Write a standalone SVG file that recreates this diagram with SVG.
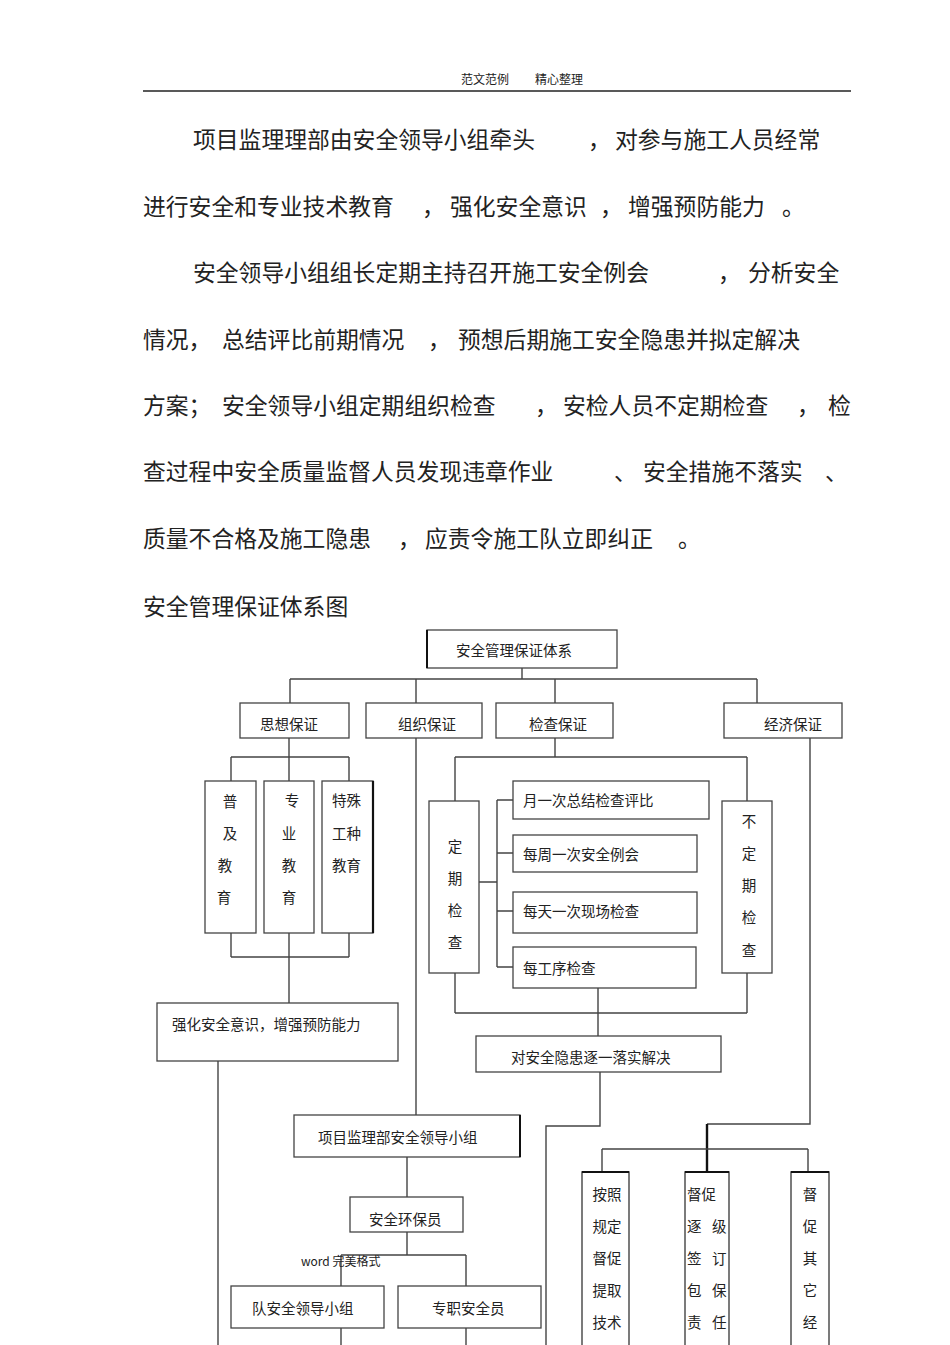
<svg xmlns="http://www.w3.org/2000/svg" width="950" height="1345" viewBox="0 0 950 1345">
<style>
  text { font-family: "Noto Sans CJK SC", "Noto Sans", sans-serif; fill: #222; dominant-baseline: central; }
  .p { font-size: 22.8px; }
  .h { font-size: 12px; }
  .b { font-size: 14.5px; }
  .w { font-size: 12px; }
  .box { fill: #fff; stroke: #444; stroke-width: 1.3; }
  .ln { fill: none; stroke: #444; stroke-width: 1.4; }
  .tk { fill: none; stroke: #111; stroke-width: 2.4; }
  .vc { text-anchor: middle; }
</style>
<rect width="950" height="1345" fill="#fff"/>

<g id="header">
  <text class="h" x="461" y="78">范文范例</text>
  <text class="h" x="535" y="78">精心整理</text>
  <line x1="143" y1="91" x2="851" y2="91" stroke="#222" stroke-width="1.5"/>
</g>

<g id="paragraph">
  <text class="p" x="193" y="138">项目监理理部由安全领导小组牵头</text>
  <text class="p" x="588" y="138">，</text>
  <text class="p" x="615" y="138">对参与施工人员经常</text>

  <text class="p" x="143" y="205">进行安全和专业技术教育</text>
  <text class="p" x="422" y="205">，</text>
  <text class="p" x="450" y="205">强化安全意识</text>
  <text class="p" x="600" y="205">，</text>
  <text class="p" x="628" y="205">增强预防能力</text>
  <text class="p" x="782" y="205">。</text>

  <text class="p" x="193" y="271">安全领导小组组长定期主持召开施工安全例会</text>
  <text class="p" x="718" y="271">，</text>
  <text class="p" x="748" y="271">分析安全</text>

  <text class="p" x="143" y="338">情况，</text>
  <text class="p" x="222" y="338">总结评比前期情况</text>
  <text class="p" x="428" y="338">，</text>
  <text class="p" x="458" y="338">预想后期施工安全隐患并拟定解决</text>

  <text class="p" x="143" y="404">方案；</text>
  <text class="p" x="222" y="404">安全领导小组定期组织检查</text>
  <text class="p" x="535" y="404">，</text>
  <text class="p" x="563" y="404">安检人员不定期检查</text>
  <text class="p" x="797" y="404">，</text>
  <text class="p" x="828" y="404">检</text>

  <text class="p" x="143" y="470">查过程中安全质量监督人员发现违章作业</text>
  <text class="p" x="614" y="470">、</text>
  <text class="p" x="643" y="470">安全措施不落实</text>
  <text class="p" x="825" y="470">、</text>

  <text class="p" x="143" y="537">质量不合格及施工隐患</text>
  <text class="p" x="398" y="537">，</text>
  <text class="p" x="425" y="537">应责令施工队立即纠正</text>
  <text class="p" x="678" y="537">。</text>

  <text class="p" x="143" y="605">安全管理保证体系图</text>
</g>

<g id="connectors">
  <path class="ln" d="M522 668 V679 M290 679 H757 M290 679 V703 M416 679 V703 M555 679 V703 M757 679 V703"/>
  <path class="ln" d="M289 738 V757 M231 757 H349 M231 757 V781 M289 757 V781 M349 757 V781"/>
  <path class="ln" d="M231 933 V957 M289 933 V1003 M349 933 V957 M231 957 H349"/>
  <path class="ln" d="M218 1061 V1345"/>
  <path class="ln" d="M416 738 V1115"/>
  <path class="ln" d="M407 1157 V1197 M407 1232 V1255 M341 1255 H466 M341 1255 V1286 M466 1255 V1286"/>
  <path class="ln" d="M341 1328 V1345 M466 1328 V1345"/>
  <path class="ln" d="M555 738 V757 M455 757 H747 M455 757 V801 M747 757 V801"/>
  <path class="ln" d="M479 882 H497 M497 800 V967 M497 800 H513 M497 853 H513 M497 911 H513 M497 967 H513"/>
  <path class="ln" d="M455 973 V1013 M747 973 V1013 M455 1013 H747 M598 988 V1036"/>
  <path class="ln" d="M600 1072 V1126 H546 V1345" stroke="#222" stroke-width="1.8"/>
  <path class="ln" d="M810 738 V1124 H707"/>
  <path class="tk" d="M707 1124 V1172"/>
  <path class="ln" d="M602 1149 H808 M602 1149 V1172 M808 1149 V1172"/>
</g>

<g id="n-root">
  <rect class="box" x="427" y="630" width="190" height="38"/>
  <line x1="427" y1="630" x2="427" y2="668" stroke="#111" stroke-width="2"/>
  <text class="b" x="456" y="649">安全管理保证体系</text>
</g>

<g id="n-sixiang">
  <rect class="box" x="240" y="703" width="109" height="35"/>
  <text class="b" x="260" y="723">思想保证</text>
</g>
<g id="n-zuzhi">
  <rect class="box" x="366" y="703" width="116" height="35"/>
  <text class="b" x="398" y="723">组织保证</text>
</g>
<g id="n-jiancha">
  <rect class="box" x="496" y="703" width="117" height="35"/>
  <text class="b" x="529" y="723">检查保证</text>
</g>
<g id="n-jingji">
  <rect class="box" x="724" y="703" width="118" height="35"/>
  <text class="b" x="764" y="723">经济保证</text>
</g>

<g id="n-puji">
  <rect class="box" x="205" y="781" width="51" height="152"/>
  <text class="b vc" x="230" y="800">普</text>
  <text class="b vc" x="230" y="832">及</text>
  <text class="b vc" x="225" y="864">教</text>
  <text class="b vc" x="224" y="896">育</text>
</g>
<g id="n-zhuanye">
  <rect class="box" x="264" y="781" width="50" height="152"/>
  <text class="b vc" x="292" y="799">专</text>
  <text class="b vc" x="289" y="832">业</text>
  <text class="b vc" x="289" y="864">教</text>
  <text class="b vc" x="289" y="896">育</text>
</g>
<g id="n-teshu">
  <rect class="box" x="322" y="781" width="51" height="152"/>
  <line x1="373" y1="781" x2="373" y2="933" stroke="#111" stroke-width="2.2"/>
  <text class="b" x="332" y="799">特殊</text>
  <text class="b" x="332" y="832">工种</text>
  <text class="b" x="332" y="864">教育</text>
</g>

<g id="n-qianghua">
  <rect class="box" x="157" y="1003" width="241" height="58"/>
  <text class="b" x="172" y="1023">强化安全意识，增强预防能力</text>
</g>

<g id="n-dingqi">
  <rect class="box" x="429" y="801" width="50" height="172"/>
  <text class="b vc" x="455" y="845">定</text>
  <text class="b vc" x="455" y="877">期</text>
  <text class="b vc" x="455" y="909">检</text>
  <text class="b vc" x="455" y="941">查</text>
</g>
<g id="n-yue">
  <rect class="box" x="513" y="781" width="196" height="38"/>
  <text class="b" x="523" y="799">月一次总结检查评比</text>
</g>
<g id="n-zhou">
  <rect class="box" x="513" y="835" width="184" height="37"/>
  <text class="b" x="523" y="853">每周一次安全例会</text>
</g>
<g id="n-tian">
  <rect class="box" x="513" y="892" width="184" height="41"/>
  <text class="b" x="523" y="910">每天一次现场检查</text>
</g>
<g id="n-gongxu">
  <rect class="box" x="513" y="947" width="183" height="41"/>
  <text class="b" x="523" y="967">每工序检查</text>
</g>
<g id="n-budingqi">
  <rect class="box" x="722" y="801" width="50" height="172"/>
  <text class="b vc" x="749" y="820">不</text>
  <text class="b vc" x="749" y="852">定</text>
  <text class="b vc" x="749" y="884">期</text>
  <text class="b vc" x="749" y="916">检</text>
  <text class="b vc" x="749" y="949">查</text>
</g>

<g id="n-jiejue">
  <rect class="box" x="476" y="1036" width="245" height="36"/>
  <text class="b" x="511" y="1056">对安全隐患逐一落实解决</text>
</g>

<g id="n-xiangmu">
  <rect class="box" x="294" y="1115" width="226" height="42"/>
  <line x1="520" y1="1115" x2="520" y2="1157" stroke="#111" stroke-width="2"/>
  <text class="b" x="318" y="1136">项目监理部安全领导小组</text>
</g>
<g id="n-huanbao">
  <rect class="box" x="350" y="1197" width="113" height="35"/>
  <text class="b" x="369" y="1218">安全环保员</text>
</g>
<g id="watermark">
  <text class="w" x="301" y="1260">word 完美格式</text>
</g>
<g id="n-dui">
  <rect class="box" x="231" y="1286" width="153" height="42"/>
  <text class="b" x="252" y="1307">队安全领导小组</text>
</g>
<g id="n-zhuanzhi">
  <rect class="box" x="398" y="1286" width="143" height="42"/>
  <text class="b" x="432" y="1307">专职安全员</text>
</g>

<g id="n-anzhao">
  <path class="ln" d="M582 1345 V1172 H629 V1345"/>
  <line x1="582" y1="1172" x2="629" y2="1172" stroke="#111" stroke-width="2.2"/>
  <text class="b vc" x="607" y="1193">按照</text>
  <text class="b vc" x="607" y="1225">规定</text>
  <text class="b vc" x="607" y="1257">督促</text>
  <text class="b vc" x="607" y="1289">提取</text>
  <text class="b vc" x="607" y="1321">技术</text>
</g>
<g id="n-ducu">
  <path class="ln" d="M685 1345 V1172 H729 V1345"/>
  <line x1="685" y1="1172" x2="729" y2="1172" stroke="#111" stroke-width="2.2"/>
  <text class="b" x="687" y="1193">督促</text>
  <text class="b" x="687" y="1225">逐</text><text class="b" x="712" y="1225">级</text>
  <text class="b" x="687" y="1257">签</text><text class="b" x="712" y="1257">订</text>
  <text class="b" x="687" y="1289">包</text><text class="b" x="712" y="1289">保</text>
  <text class="b" x="687" y="1321">责</text><text class="b" x="712" y="1321">任</text>
</g>
<g id="n-qita">
  <path class="ln" d="M791 1345 V1172 H829 V1345"/>
  <line x1="791" y1="1172" x2="829" y2="1172" stroke="#111" stroke-width="2.2"/>
  <text class="b vc" x="810" y="1193">督</text>
  <text class="b vc" x="810" y="1225">促</text>
  <text class="b vc" x="810" y="1257">其</text>
  <text class="b vc" x="810" y="1289">它</text>
  <text class="b vc" x="810" y="1321">经</text>
</g>
</svg>
